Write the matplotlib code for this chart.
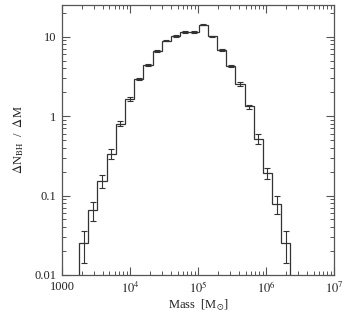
import numpy as np
import matplotlib
matplotlib.use("Agg")
import matplotlib.pyplot as plt
from matplotlib.ticker import FixedLocator, FixedFormatter, LogLocator, NullFormatter

# histogram of black hole masses (log10 bin edges, per-bin values and errors)
log_edge_lo = 3.252
log_edge_hi = 6.36
n_bins = 23
dn_dm = [0.025, 0.065, 0.152, 0.337, 0.805, 1.63, 2.93, 4.43, 6.53, 8.9, 10.2, 11.5,
         11.4, 14.1, 10.1, 6.73, 4.23, 2.51, 1.32, 0.52, 0.19, 0.079, 0.025]
dn_err = [0.011, 0.017, 0.029, 0.045, 0.063, 0.09, 0.12, 0.15, 0.18, 0.21, 0.22, 0.24,
          0.24, 0.26, 0.22, 0.18, 0.14, 0.14, 0.075, 0.075, 0.03, 0.02, 0.011]

x_ticks = [1e3, 1e4, 1e5, 1e6, 1e7]
x_labels = ['1000', r'$10^4$', r'$10^5$', r'$10^6$', r'$10^7$']
y_ticks = [0.01, 0.1, 1, 10]
y_labels = ['0.01', '0.1', '1', '10']

plt.rcParams['font.family'] = ['Liberation Serif', 'DejaVu Serif']
plt.rcParams['mathtext.fontset'] = 'stix'

edges = 10 ** np.linspace(log_edge_lo, log_edge_hi, n_bins + 1)
centers = np.sqrt(edges[:-1] * edges[1:])

fig = plt.figure(figsize=(3.54, 3.12), dpi=100)
ax = fig.add_axes([0.175, 0.1186, 0.7685, 0.8654])

ax.stairs(dn_dm, edges, baseline=1e-3, color='#333333', lw=0.9)
ax.errorbar(centers, dn_dm, yerr=dn_err, fmt='none', ecolor='#333333',
            elinewidth=0.8, capsize=2, capthick=0.8)

ax.set_xscale('log')
ax.set_yscale('log')
ax.set_xlim(1e3, 1e7)
ax.set_ylim(0.01, 25)

ax.xaxis.set_major_locator(FixedLocator(x_ticks))
ax.xaxis.set_major_formatter(FixedFormatter(x_labels))
ax.yaxis.set_major_locator(FixedLocator(y_ticks))
ax.yaxis.set_major_formatter(FixedFormatter(y_labels))
ax.xaxis.set_minor_locator(LogLocator(base=10, subs=np.arange(2, 10), numticks=20))
ax.yaxis.set_minor_locator(LogLocator(base=10, subs=np.arange(2, 10), numticks=20))
ax.xaxis.set_minor_formatter(NullFormatter())
ax.yaxis.set_minor_formatter(NullFormatter())

ax.tick_params(which='both', direction='in', top=True, right=True,
               color='#555555', labelsize=9, pad=4, labelcolor='#222222')
ax.tick_params(which='major', length=6, width=0.8)
ax.tick_params(which='minor', length=3, width=0.7)
for s in ax.spines.values():
    s.set_color('#555555')
    s.set_linewidth(0.9)

ax.set_xlabel(r'Mass  [M$_{\odot}$]', fontsize=9, labelpad=1, color='#222222')
ax.set_ylabel(r'$\Delta$N$_{\rm BH}$  /  $\Delta$M', fontsize=9, labelpad=6, color='#222222')

fig.savefig('out.png', dpi=100)
